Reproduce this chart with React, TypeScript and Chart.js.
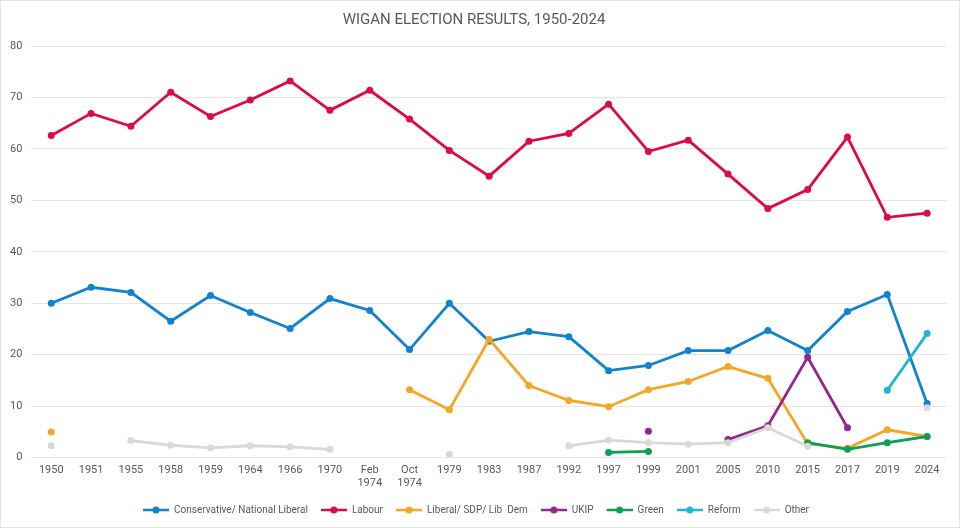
import { useEffect, useRef } from "react";
import { Chart, registerables } from "chart.js";

Chart.register(...registerables);

const years: (string | string[])[] = [
  "1950", "1951", "1955", "1958", "1959", "1964", "1966", "1970",
  ["Feb", "1974"], ["Oct", "1974"], "1979", "1983", "1987", "1992",
  "1997", "1999", "2001", "2005", "2010", "2015", "2017", "2019", "2024",
];

const conservative = [30.0, 33.1, 32.1, 26.5, 31.5, 28.2, 25.1, 30.9, 28.6, 21.0, 30.0, 22.6, 24.5, 23.5, 16.9, 17.9, 20.8, 20.8, 24.7, 20.8, 28.4, 31.7, 10.5];
const labour = [62.6, 66.9, 64.4, 71.0, 66.3, 69.5, 73.2, 67.5, 71.4, 65.8, 59.7, 54.7, 61.5, 63.0, 68.7, 59.5, 61.7, 55.1, 48.4, 52.1, 62.3, 46.7, 47.5];
const libDem = [5.0, null, null, null, null, null, null, null, null, 13.2, 9.3, 23.0, 14.0, 11.1, 9.9, 13.2, 14.8, 17.7, 15.4, 2.7, 1.8, 5.4, 4.1];
const ukip = [null, null, null, null, null, null, null, null, null, null, null, null, null, null, null, 5.1, null, 3.5, 6.2, 19.5, 5.8, null, null];
const green = [null, null, null, null, null, null, null, null, null, null, null, null, null, null, 1.0, 1.2, null, null, null, 2.9, 1.6, 2.9, 4.1];
const reform = [null, null, null, null, null, null, null, null, null, null, null, null, null, null, null, null, null, null, null, null, null, 13.1, 24.1];
const other = [2.3, null, 3.3, 2.4, 1.9, 2.3, 2.1, 1.6, null, null, 0.6, null, null, 2.3, 3.4, 2.9, 2.6, 2.9, 5.8, 2.2, null, null, 9.7];

const seriesNames = ["Conservative/ National Liberal", "Labour", "Liberal/ SDP/ Lib  Dem", "UKIP", "Green", "Reform", "Other"];
const seriesColors = ["#0f83d0", "#dd0a47", "#f5a623", "#952590", "#0aa155", "#1bb7cf", "#d9d9d9"];
const seriesValues = [conservative, labour, libDem, ukip, green, reform, other];

const FONT = "Roboto, 'Noto Sans', sans-serif";

// little "line with a dot" legend marker, with a bit of empty space on the left
function legendMarker(color: string) {
  const c = document.createElement("canvas");
  c.width = 30;
  c.height = 10;
  const ctx = c.getContext("2d")!;
  ctx.strokeStyle = color;
  ctx.lineWidth = 2.5;
  ctx.beginPath();
  ctx.moveTo(4, 5);
  ctx.lineTo(30, 5);
  ctx.stroke();
  ctx.fillStyle = color;
  ctx.beginPath();
  ctx.arc(17, 5, 3.5, 0, Math.PI * 2);
  ctx.fill();
  return c;
}

const App = () => {
  const canvasRef = useRef<HTMLCanvasElement>(null);

  useEffect(() => {
    document.body.style.margin = "0";
    const markers = seriesColors.map(legendMarker);

    const chart = new Chart(canvasRef.current!, {
      type: "line",
      data: {
        labels: years,
        datasets: seriesNames.map((name, i) => ({
          label: name,
          data: seriesValues[i],
          borderColor: seriesColors[i],
          backgroundColor: seriesColors[i],
          pointBackgroundColor: seriesColors[i],
          pointBorderColor: seriesColors[i],
          borderWidth: 2.8,
          pointRadius: 3.5,
          pointBorderWidth: 0,
          spanGaps: false,
          tension: 0,
          order: seriesNames.length - i,
        })),
      },
      options: {
        animation: false,
        responsive: true,
        maintainAspectRatio: false,
        layout: { padding: { left: 0, right: 12, top: 0, bottom: 2 } },
        scales: {
          x: {
            offset: true,
            grid: { display: false, drawTicks: false },
            border: { display: false },
            ticks: {
              color: "#595959",
              font: { family: FONT, size: 11 },
              maxRotation: 0,
              autoSkip: false,
              padding: 6,
            },
          },
          y: {
            min: 0,
            max: 80,
            grid: { color: "#e6e6e6", lineWidth: 1, drawTicks: false },
            border: { display: false },
            ticks: {
              stepSize: 10,
              color: "#595959",
              font: { family: FONT, size: 11 },
              padding: 9,
            },
          },
        },
        plugins: {
          title: {
            display: true,
            text: "WIGAN ELECTION RESULTS, 1950-2024",
            color: "#595959",
            font: { family: FONT, size: 15, weight: "normal" },
            padding: { top: 10, bottom: 17 },
          },
          legend: {
            display: true,
            position: "bottom",
            labels: {
              color: "#595959",
              font: { family: FONT, size: 10 },
              usePointStyle: true,
              pointStyleWidth: 30,
              padding: 9,
              sort: (a: any, b: any) => a.datasetIndex - b.datasetIndex,
              generateLabels: (ch: any) =>
                ch.data.datasets.map((ds: any, i: number) => ({
                  text: ds.label,
                  datasetIndex: i,
                  pointStyle: markers[i],
                  fillStyle: seriesColors[i],
                  strokeStyle: seriesColors[i],
                  fontColor: "#595959",
                  lineWidth: 0,
                  hidden: false,
                })),
            },
          },
          tooltip: { enabled: false },
        },
      },
    });

    return () => {
      chart.destroy();
    };
  }, []);

  return (
    <div
      style={{
        width: 958,
        height: 526,
        border: "1px solid #e3e3e3",
        background: "#fff",
        position: "relative",
      }}
    >
      <canvas ref={canvasRef}></canvas>
    </div>
  );
};

export default App;
